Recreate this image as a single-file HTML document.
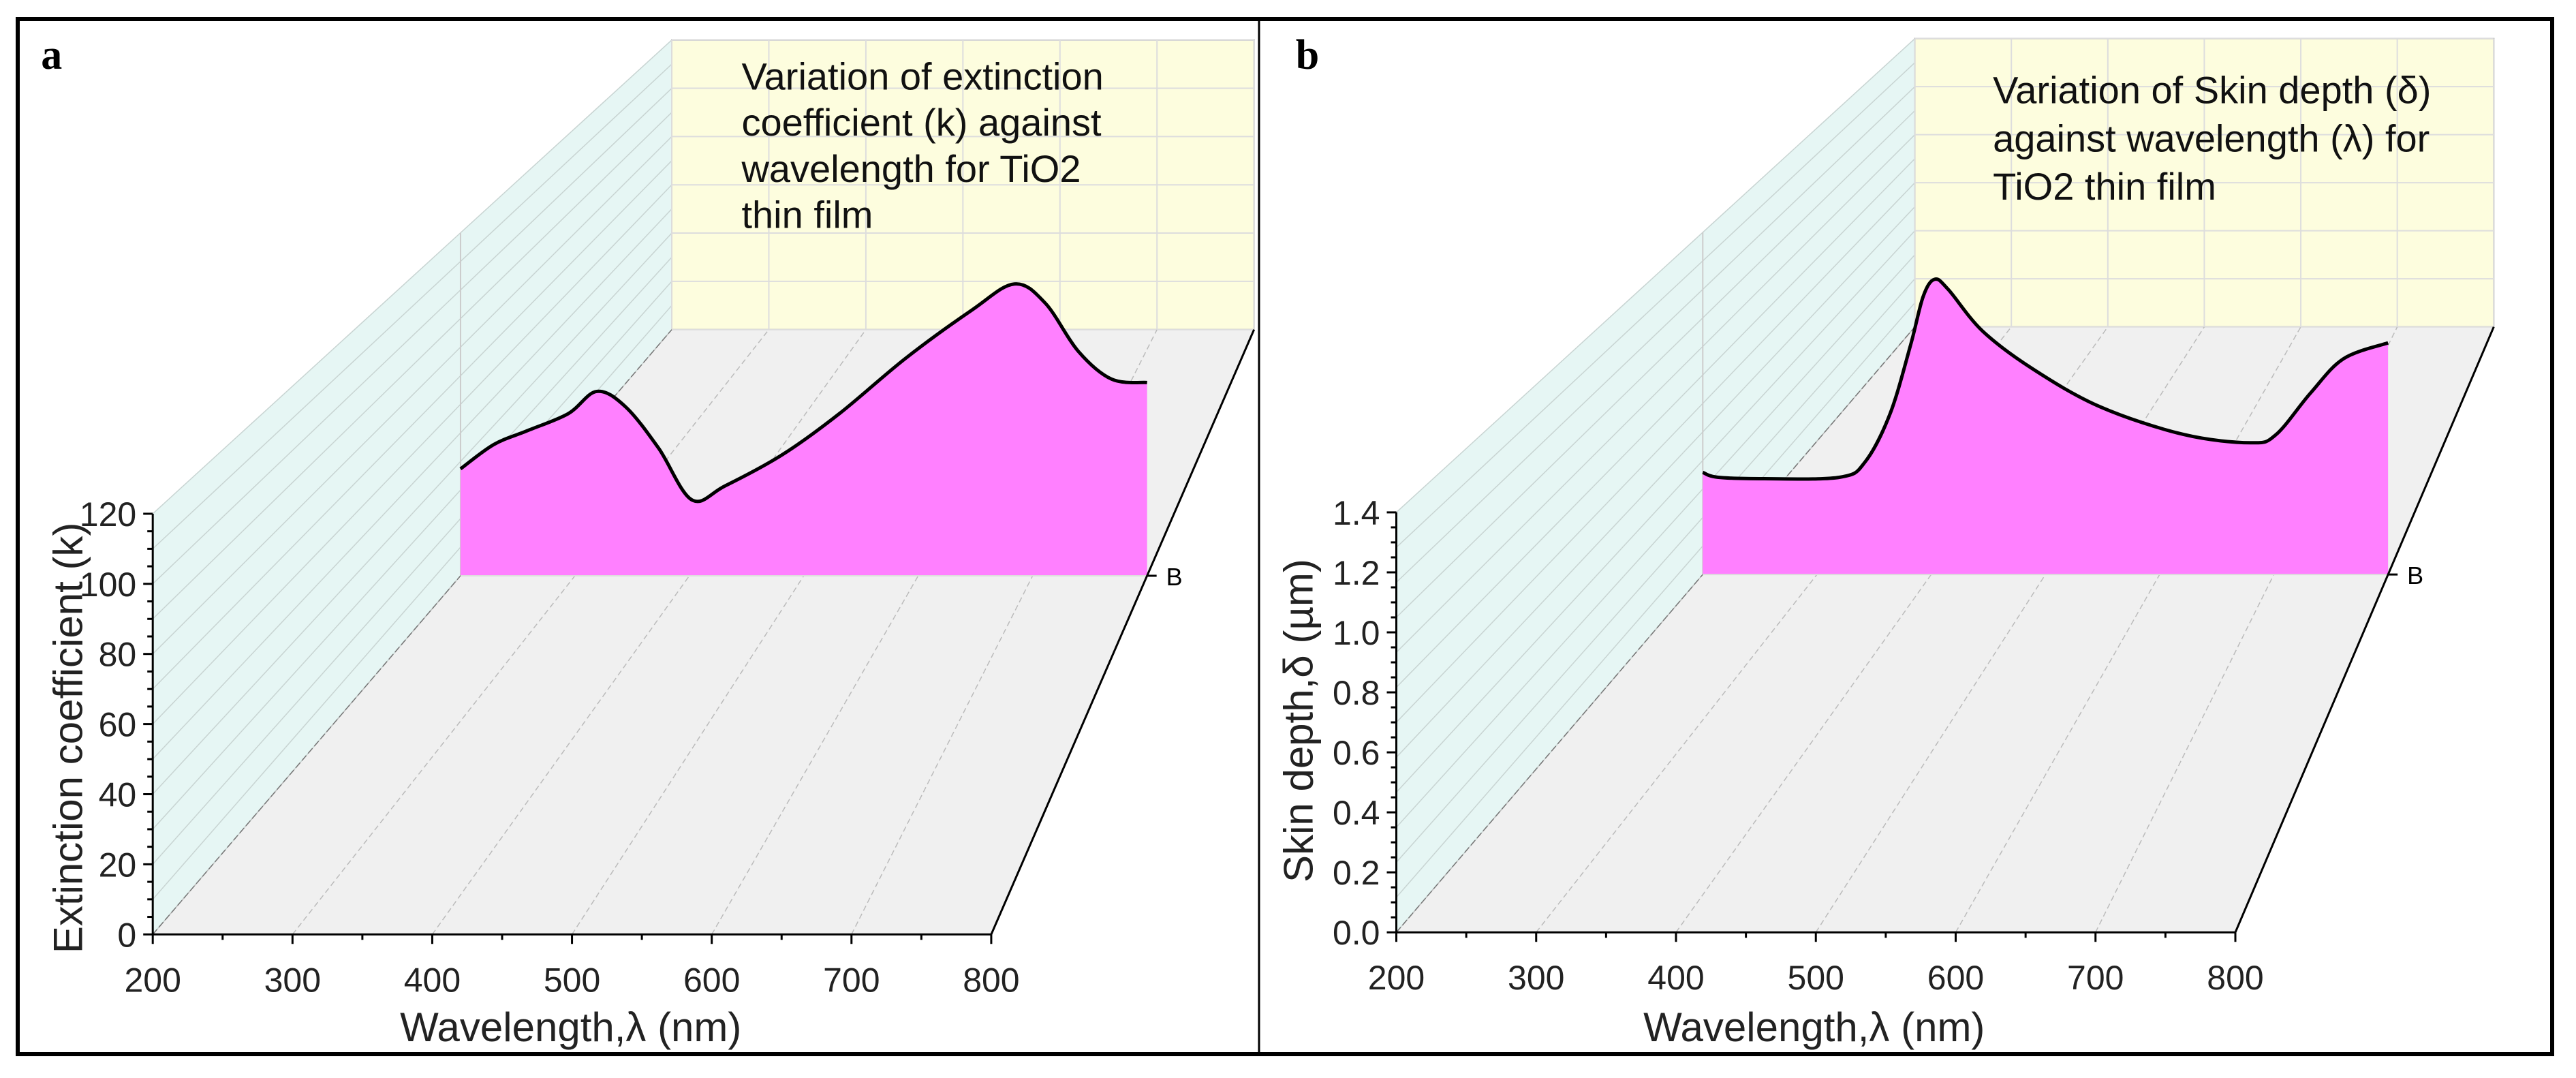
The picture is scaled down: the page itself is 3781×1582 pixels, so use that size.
<!DOCTYPE html>
<html><head><meta charset="utf-8"><style>
html,body{margin:0;padding:0;background:#fff;}
svg{display:block;font-family:"Liberation Sans",sans-serif;}
</style></head><body>
<svg id="fig" width="3781" height="1582" viewBox="0 0 3781 1582">
<rect x="26" y="28" width="3720" height="1519" fill="#fff" stroke="#000" stroke-width="6"/>
<line x1="1848" y1="28" x2="1848" y2="1547" stroke="#000" stroke-width="3"/>
</svg>
<script>
// Panel a data: extinction coefficient
const wlA = [200,229,258,294,319,344,373,402,431,481,531,589,647,684,711,740,769,800];
const kA = [37.4,45.9,50.7,56.7,64.5,59.2,44.7,26.6,31.4,42.3,56.7,76.1,93.0,102.1,95.4,78.5,68.8,67.6];
// Panel b data: skin depth
const wlB = [200,213,254,320,342,364,382,393,403,415,445,489,548,621,680,702,732,761,800];
const dB = [0.418,0.398,0.392,0.398,0.460,0.658,0.940,1.138,1.208,1.166,0.996,0.841,0.686,0.573,0.539,0.573,0.742,0.883,0.948];
const xTicks = [200,300,400,500,600,700,800];
const yTicksA = [0,20,40,60,80,100,120];
const yTicksB = ["0.0","0.2","0.4","0.6","0.8","1.0","1.2","1.4"];

const svg = document.getElementById('fig');
const NS = 'http://www.w3.org/2000/svg';
function mk(tag, attrs, parent){const e=document.createElementNS(NS,tag);for(const k in attrs)e.setAttribute(k,attrs[k]);(parent||svg).appendChild(e);return e;}
function smooth(p){let d='M'+p[0][0]+','+p[0][1];
  for(let i=0;i<p.length-1;i++){const p0=p[Math.max(0,i-1)],p1=p[i],p2=p[i+1],p3=p[Math.min(p.length-1,i+2)];
    const c1=[p1[0]+(p2[0]-p0[0])/6,p1[1]+(p2[1]-p0[1])/6],c2=[p2[0]-(p3[0]-p1[0])/6,p2[1]-(p3[1]-p1[1])/6];
    d+=` C${c1[0]},${c1[1]} ${c2[0]},${c2[1]} ${p2[0]},${p2[1]}`;}
  return d;}

function panel(cfg){
  const g = mk('g',{});
  
  
  const O=(zx,zy)=>[cfg.off+zx*cfg.sx, zy*1.012];
  const P=(fx,fy,t)=>{
    const X=(cfg.X0+cfg.W0*fx)*(1-t)+(cfg.X1+cfg.W1*fx)*t;
    const Y=(cfg.Y0-cfg.H0*fy)*(1-t)+(cfg.Y1-cfg.H1*fy)*t;
    return O(X,Y);
  };
  const pts=a=>a.map(p=>p.join(',')).join(' ');
  let e;
  e=mk('polygon',{points:pts([P(0,0,0),P(0,1,0),P(0,1,1),P(0,0,1)]),fill:'#e6f6f4'},g);
  
  e=mk('polygon',{points:pts([P(0,0,1),P(1,0,1),P(1,1,1),P(0,1,1)]),fill:'#fdfdde',stroke:'#999','stroke-width':2},g);
  
  e=mk('polygon',{points:pts([P(0,0,0),P(1,0,0),P(1,0,1),P(0,0,1)]),fill:'#f0f0f0'},g);
  
  for(let i=0;i<=12;i++){const fy=i/12;const a=P(0,fy,0),b=P(0,fy,1);
    e=mk('line',{x1:a[0],y1:a[1],x2:b[0],y2:b[1],stroke:'#c8d4d2','stroke-width':1.5},g);
    
    const c=P(0,fy,1),d=P(1,fy,1);
    if(i%2==0){e=mk('line',{x1:c[0],y1:c[1],x2:d[0],y2:d[1],stroke:'#ddd','stroke-width':2},g);
    }
  }
  for(let i=0;i<xTicks.length;i++){const fx=(xTicks[i]-200)/600;
    const a=P(fx,0,0),b=P(fx,0,1),c=P(fx,1,1);
    e=mk('line',{x1:a[0],y1:a[1],x2:b[0],y2:b[1],stroke:'#bbb','stroke-width':1.5,'stroke-dasharray':'8,5'},g);
    
    e=mk('line',{x1:b[0],y1:b[1],x2:c[0],y2:c[1],stroke:'#ddd','stroke-width':2},g);
    
  }
  const a1=P(0,0,cfg.t),a2=P(0,1,cfg.t);
  e=mk('line',{x1:a1[0],y1:a1[1],x2:a2[0],y2:a2[1],stroke:'#ccc','stroke-width':2},g);
  
  const o=P(0,0,0),xr=P(1,0,0),yt=P(0,1,0),lb=P(0,0,1),rb=P(1,0,1);
  e=mk('line',{x1:o[0],y1:o[1],x2:lb[0],y2:lb[1],stroke:'#777','stroke-width':1.5,'stroke-dasharray':'10,4'},g);
  
  // series
  const sp=cfg.xs.map((x,i)=>P((x-200)/600,cfg.ys[i]/cfg.ymax,cfg.t));
  const s0=P(0,0,cfg.t),s1=P((cfg.xs[cfg.xs.length-1]-200)/600,0,cfg.t);
  const cd=smooth(sp);
  e=mk('path',{d:cd+` L${s1[0]},${s1[1]} L${s0[0]},${s0[1]} Z`,fill:'#ff80ff'},g);
  
  e=mk('path',{d:cd,fill:'none',stroke:'#000','stroke-width':5,'stroke-linejoin':'round'},g);
  
  const bl=P(0,0,cfg.t),br=P(1,0,cfg.t);
  e=mk('line',{x1:bl[0],y1:bl[1],x2:br[0],y2:br[1],stroke:'#ddd','stroke-width':2},g);
  
  e=mk('line',{x1:br[0],y1:br[1],x2:br[0]+14,y2:br[1],stroke:'#000','stroke-width':3},g);
  
  e=mk('text',{x:br[0]+28,y:br[1]+14,'font-size':36,fill:'#000'},g);e.textContent='B';
  
  [[o,xr,'x-axis-line'],[o,yt,'y-axis-line'],[xr,rb,'floor-right-edge']].forEach(l=>{
    e=mk('line',{x1:l[0][0],y1:l[0][1],x2:l[1][0],y2:l[1][1],stroke:'#000','stroke-width':3},g);
    });
  for(let v=200;v<=800;v+=50){const p=P((v-200)/600,0,0);const major=v%100==0;
    e=mk('line',{x1:p[0],y1:p[1],x2:p[0],y2:p[1]+(major?14:8),stroke:'#000','stroke-width':3},g);
    }
  xTicks.forEach(v=>{const p=P((v-200)/600,0,0);
    e=mk('text',{x:p[0],y:p[1]+84,'font-size':50,'text-anchor':'middle',fill:'#222'},g);e.textContent=v;
    });
  const nY=cfg.yt.length-1;
  for(let i=0;i<=nY*4;i++){const p=P(0,i/(nY*4),0);const major=i%4==0;
    e=mk('line',{x1:p[0],y1:p[1],x2:p[0]-(major?14:8),y2:p[1],stroke:'#000','stroke-width':3},g);
    }
  cfg.yt.forEach((v,i)=>{const p=P(0,i/nY,0);
    e=mk('text',{x:p[0]-24,y:p[1]+18,'font-size':50,'text-anchor':'end',fill:'#222'},g);e.textContent=v;
    });
  const xt=O(cfg.xtx,1488);
  e=mk('text',{x:xt[0],y:xt[1]+22,'font-size':60,'text-anchor':'middle',fill:'#222'},g);e.textContent='Wavelength,λ (nm)';
  
  const ytp=O(cfg.ytx,cfg.yty);
  e=mk('text',{x:ytp[0],y:ytp[1],'font-size':60,'text-anchor':'middle',fill:'#222',transform:`rotate(-90 ${ytp[0]} ${ytp[1]})`},g);e.textContent=cfg.ytitle;
  
  cfg.note.forEach((s,i)=>{const p=O(cfg.nx,cfg.ny+i*cfg.nd);
    e=mk('text',{x:p[0],y:p[1]+20,'font-size':56,fill:'#111'},g);e.textContent=s;
    });
  const lp=O(cfg.lx,80);
  e=mk('text',{x:lp[0],y:lp[1]+20,'font-size':62,'font-weight':'bold','font-family':'"Liberation Serif",serif',fill:'#000'},g);e.textContent=cfg.label;
  
}
panel({name:'panel-a',off:0,sx:1.2054,X0:186,W0:1021,Y0:1355,H0:610,X1:818,W1:709,Y1:478,H1:420,t:0.593,
  xs:wlA,ys:kA,ymax:120,yt:yTicksA,ytitle:'Extinction coefficient (k)',xtx:695,ytx:100,yty:1070,
  note:['Variation of extinction','coefficient (k) against','wavelength for TiO2','thin film'],nx:903,ny:110,nd:67,label:'a',lx:50});
panel({name:'panel-b',off:1850,sx:1.2315,X0:162,W0:1000,Y0:1352,H0:609,X1:780,W1:690,Y1:474,H1:418,t:0.591,
  xs:wlB,ys:dB,ymax:1.4,yt:yTicksB,ytitle:'Skin depth,δ (µm)',xtx:660,ytx:62,yty:1045,
  note:['Variation of Skin depth (δ)','against wavelength (λ) for','TiO2 thin film'],nx:873,ny:130,nd:70,label:'b',lx:42});
</script>
</body></html>
